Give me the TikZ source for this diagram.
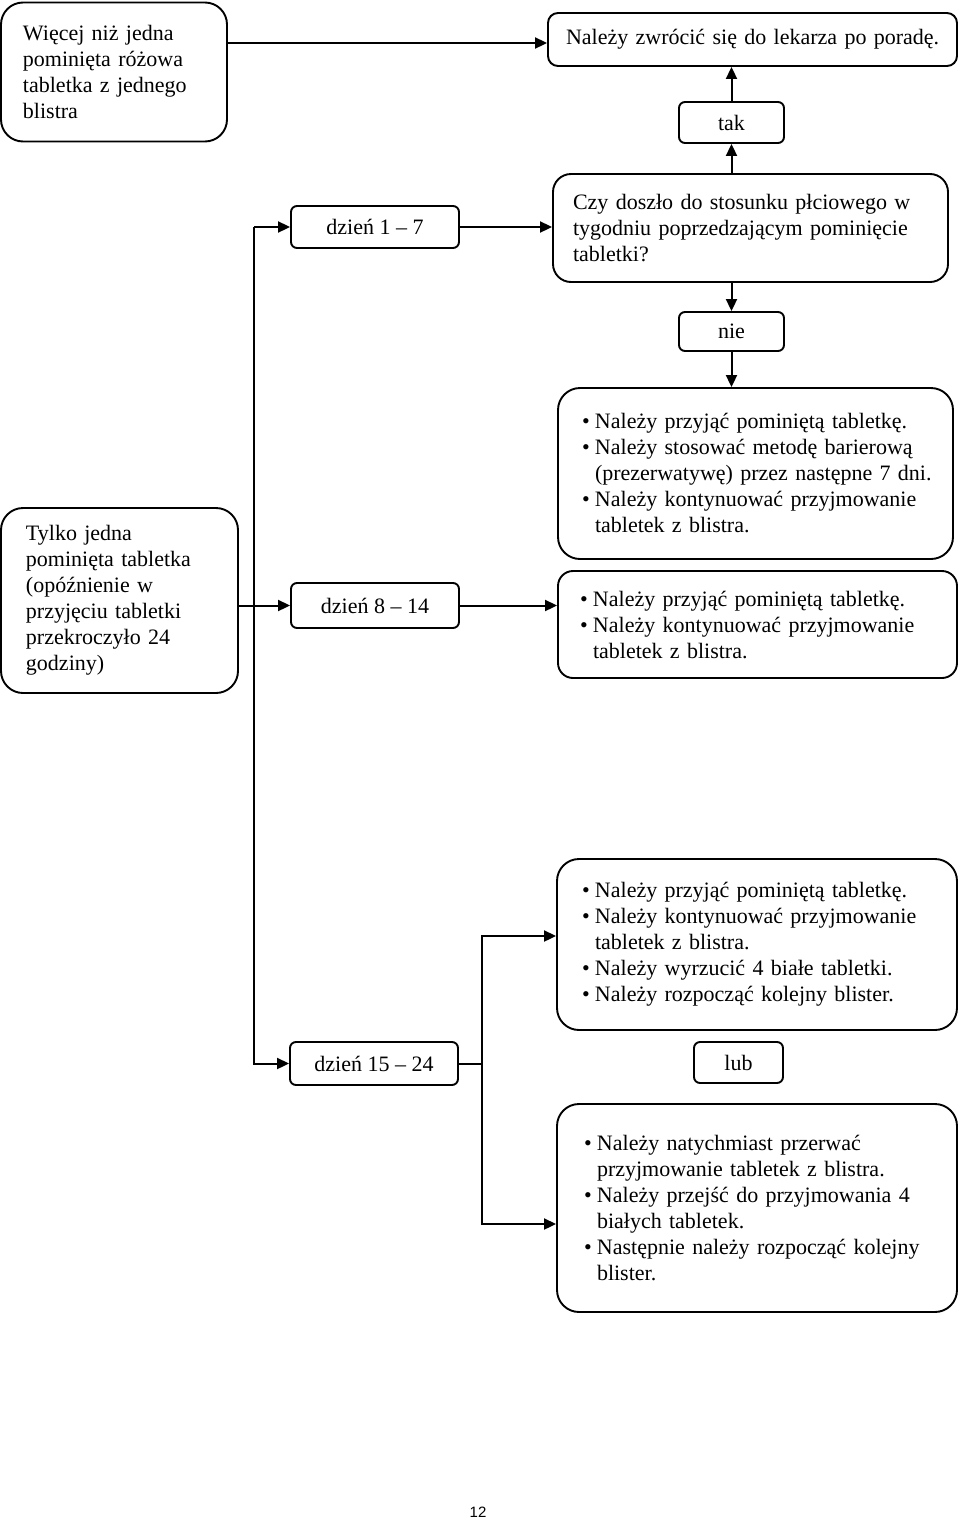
\documentclass[tikz,border=0pt]{standalone}
\usepackage{fontspec}
\setmainfont{Liberation Serif}
\newfontfamily\pagefont{Liberation Sans}
\usetikzlibrary{arrows.meta}
\setlength\parindent{0pt}
\newcommand\bi[1]{\hangindent=13pt\hangafter=1\makebox[13pt][l]{\textbullet}#1\par}
\begin{document}
\begin{tikzpicture}[x=1pt,y=-1pt,
  every node/.style={font=\fontsize{22}{26}\selectfont},
  bx/.style={draw, line width=1.9pt, rounded corners=18pt, inner ysep=2pt, inner xsep=8pt, align=left},
  sm/.style={draw, line width=1.9pt, rounded corners=6pt, inner sep=2pt, align=center},
  arr/.style={line width=2pt, -{Triangle[length=12pt,width=11pt]}},
  ln/.style={line width=2pt}]
\useasboundingbox (0,0) rectangle (960,1521);

\node[bx, rounded corners=22pt, minimum width=226pt, minimum height=139pt, text width=210pt] (A) at (114,72)
  {\leftskip=14pt Więcej niż jedna\newline pominięta różowa\newline tabletka z jednego\newline blistra\par};
\node[bx, rounded corners=10pt, minimum width=409pt, minimum height=53pt, text width=393pt] (B) at (752.5,39.5)
  {\leftskip=10pt Należy zwrócić się do lekarza po poradę.\par};
\node[sm, minimum width=105pt, minimum height=41pt] (tak) at (731.5,122.5) {tak};
\node[bx, minimum width=395pt, minimum height=108pt, text width=379pt] (C) at (750.5,228)
  {\leftskip=12pt Czy doszło do stosunku płciowego w\newline tygodniu poprzedzającym pominięcie\newline tabletki?\par};
\node[sm, minimum width=168pt, minimum height=42pt] (d17) at (375,227) {dzień 1 – 7};
\node[sm, minimum width=105pt, minimum height=39pt] (nie) at (731.5,331.5) {nie};
\node[bx, rounded corners=22pt, minimum width=395pt, minimum height=171pt, text width=379pt] (D) at (755.5,473.5)
  {\leftskip=16pt
   \bi{Należy przyjąć pominiętą tabletkę.}%
   \bi{Należy stosować metodę barierową\newline (prezerwatywę) przez następne 7 dni.}%
   \bi{Należy kontynuować przyjmowanie\newline tabletek z blistra.}};
\node[bx, rounded corners=15pt, minimum width=399pt, minimum height=107pt, text width=383pt] (E) at (757.5,624.5)
  {\leftskip=14pt
   \bi{Należy przyjąć pominiętą tabletkę.}%
   \bi{Należy kontynuować przyjmowanie\newline tabletek z blistra.}};
\node[bx, rounded corners=22pt, minimum width=237pt, minimum height=185pt, text width=221pt] (F) at (119.5,600.5)
  {\leftskip=17pt Tylko jedna\newline pominięta tabletka\newline (opóźnienie w\newline przyjęciu tabletki\newline przekroczyło 24\newline godziny)\par};
\node[sm, minimum width=168pt, minimum height=45pt] (d814) at (375,605.5) {dzień 8 – 14};
\node[bx, rounded corners=22pt, minimum width=400pt, minimum height=171pt, text width=384pt] (G) at (757,944.5)
  {\leftskip=17pt
   \bi{Należy przyjąć pominiętą tabletkę.}%
   \bi{Należy kontynuować przyjmowanie\newline tabletek z blistra.}%
   \bi{Należy wyrzucić 4 białe tabletki.}%
   \bi{Należy rozpocząć kolejny blister.}};
\node[sm, minimum width=168pt, minimum height=43pt] (d1524) at (374,1063.5) {dzień 15 – 24};
\node[sm, minimum width=89pt, minimum height=41pt] (lub) at (738.5,1062.5) {lub};
\node[bx, rounded corners=22pt, minimum width=400pt, minimum height=208pt, text width=384pt] (H) at (757,1208)
  {\leftskip=19pt
   \bi{Należy natychmiast przerwać\newline przyjmowanie tabletek z blistra.}%
   \bi{Należy przejść do przyjmowania 4\newline białych tabletek.}%
   \bi{Następnie należy rozpocząć kolejny\newline blister.}};
\node[font=\pagefont\fontsize{15}{17}\selectfont] (pg) at (478,1512) {12};

\draw[arr] (A.east |- 0,43) -- (B.west |- 0,43);
\draw[arr] (tak.north) -- (tak.north |- B.south);
\draw[arr] (tak.south |- C.north) -- (tak.south);
\draw[arr] (nie.north |- C.south) -- (nie.north);
\draw[arr] (nie.south) -- (nie.south |- D.north);
\draw[arr] (d17.east) -- (d17.east -| C.west);
\coordinate (bt) at (254,227);
\draw[arr] (bt) -- (d17.west);
\draw[arr] (bt) |- (d1524.west);
\draw[arr] (F.east |- d814.west) -- (d814.west);
\draw[arr] (d814.east) -- (d814.east -| E.west);
\coordinate (g1) at (482,936);
\coordinate (h1) at (482,1224);
\draw[ln] (d1524.east) -- (d1524.east -| g1);
\draw[arr] (h1) -- (g1) -- (g1 -| G.west);
\draw[arr] (g1) -- (h1) -- (h1 -| H.west);
\end{tikzpicture}
\end{document}
